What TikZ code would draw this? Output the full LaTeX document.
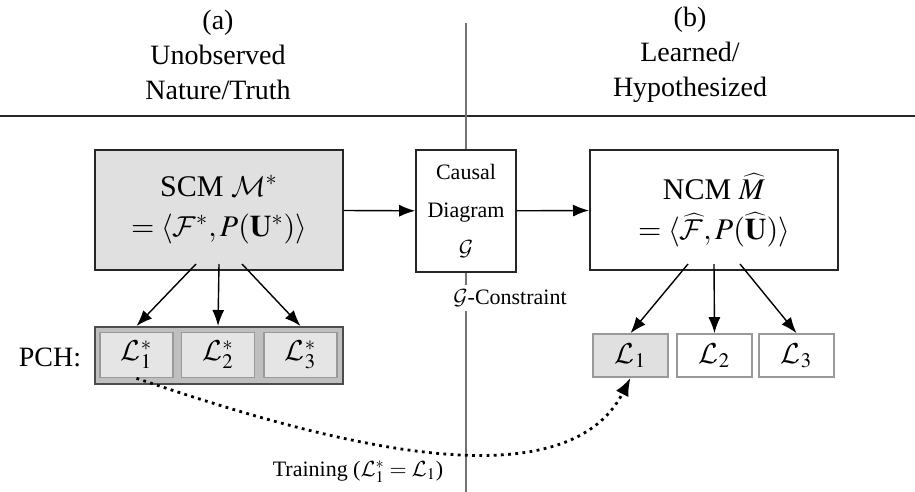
\documentclass[tikz,border=0pt]{standalone}
\usepackage{mathptmx}
\DeclareMathAlphabet{\mathcal}{OMS}{cmsy}{m}{n}
\DeclareSymbolFont{cmlarge}{OMX}{cmex}{m}{n}
\DeclareMathAccent{\widehat}{\mathord}{cmlarge}{"62}
\usepackage{fontspec}
\setmainfont{Liberation Serif}
\usetikzlibrary{arrows.meta}

\begin{document}
\begin{tikzpicture}[x=0.5pt,y=-0.5pt,
  big/.style={font=\fontsize{14}{17.5}\selectfont},
  small/.style={font=\fontsize{11}{19}\selectfont},
  bigbox/.style={draw=black!85,line width=1pt,minimum width=124pt,minimum height=60pt,
                 align=center,inner sep=0pt,font=\fontsize{15}{20}\selectfont},
  lbox/.style={draw=black!40,line width=0.8pt,minimum width=36.5pt,minimum height=22.5pt,
               inner sep=0pt,big},
  arr/.style={-{Latex[length=8pt,width=6pt]},line width=0.7pt},
]
\useasboundingbox (0,0) rectangle (915,492);

% headers
\node[big,align=center] (hdra) at (218,55) {(a)\\Unobserved\\Nature/Truth};
\node[big,align=center] (hdrb) at (690,55) {(b)\\Learned/\\Hypothesized};
\draw[line width=1pt,black!85] (0,116) -- (915,116);

%% boxes
\node[bigbox,fill=black!12] (scm) at (219,210)
  {SCM $\mathcal{M}^*$\\$=\langle\mathcal{F}^*,P(\mathbf{U}^*)\rangle$};
\node[draw=black!85,line width=0.8pt,minimum width=50pt,minimum height=61pt,inner sep=0pt,
      align=center,small] (cd) at (466,211) {Causal\\Diagram\\$\mathcal{G}$};
\node[bigbox] (ncm) at (714,210)
  {NCM $\widehat{M}$\\$=\langle\widehat{\mathcal{F}},P(\widehat{\mathbf{U}})\rangle$};

%% divider
\draw[black!55,line width=0.8pt] (466,23) -- (cd.north);
\draw[black!55,line width=0.8pt] (cd.south) -- (466,492);
\node[small,fill=white,inner sep=2pt] (gcon) at (510,298) {$\mathcal{G}$-Constraint};

\draw[arr] (scm) -- (cd);
\draw[arr] (cd) -- (ncm);

%% PCH (truth)
\node[big] (pchlbl) at (50,357) {PCH:};
\node[draw=black!70,line width=1pt,fill=black!25,minimum width=124pt,minimum height=28.5pt,
      inner sep=0pt] (pch) at (219,355.5) {};
\node[lbox,fill=black!10] (ls1) at (136.5,355) {$\mathcal{L}_1^*$};
\node[lbox,fill=black!10] (ls2) at (218,355) {$\mathcal{L}_2^*$};
\node[lbox,fill=black!10] (ls3) at (300.5,355) {$\mathcal{L}_3^*$};

\draw[arr] ([xshift=-11.5pt,yshift=3.5pt]scm.south) -- (ls1 |- pch.north);
\draw[arr] ([yshift=3.5pt]scm.south) -- (ls2 |- pch.north);
\draw[arr] ([xshift=11.5pt,yshift=3.5pt]scm.south) -- (ls3 |- pch.north);

%% PCH (learned)
\node[lbox,fill=black!12,minimum width=37.5pt,minimum height=21.5pt] (l1) at (630.5,355.5) {$\mathcal{L}_1$};
\node[lbox,minimum width=37.5pt,minimum height=21.5pt] (l2) at (714.5,355.5) {$\mathcal{L}_2$};
\node[lbox,minimum width=37.5pt,minimum height=21.5pt] (l3) at (796.5,355.5) {$\mathcal{L}_3$};

\draw[arr] ([xshift=-13pt,yshift=3.5pt]ncm.south) -- (l1.north);
\draw[arr] ([yshift=3.5pt]ncm.south) -- (l2.north);
\draw[arr] ([xshift=13pt,yshift=3.5pt]ncm.south) -- (l3.north);

%% training
\draw[-{Latex[length=9pt,width=7pt]},line width=1.4pt,dash pattern=on 1.4pt off 2.2pt]
  (ls1.south) .. controls (290,430) and (560,515) .. (l1.south);
\node[small] (train) at (358,472) {Training ($\mathcal{L}_1^*=\mathcal{L}_1$)};

\end{tikzpicture}
\end{document}
